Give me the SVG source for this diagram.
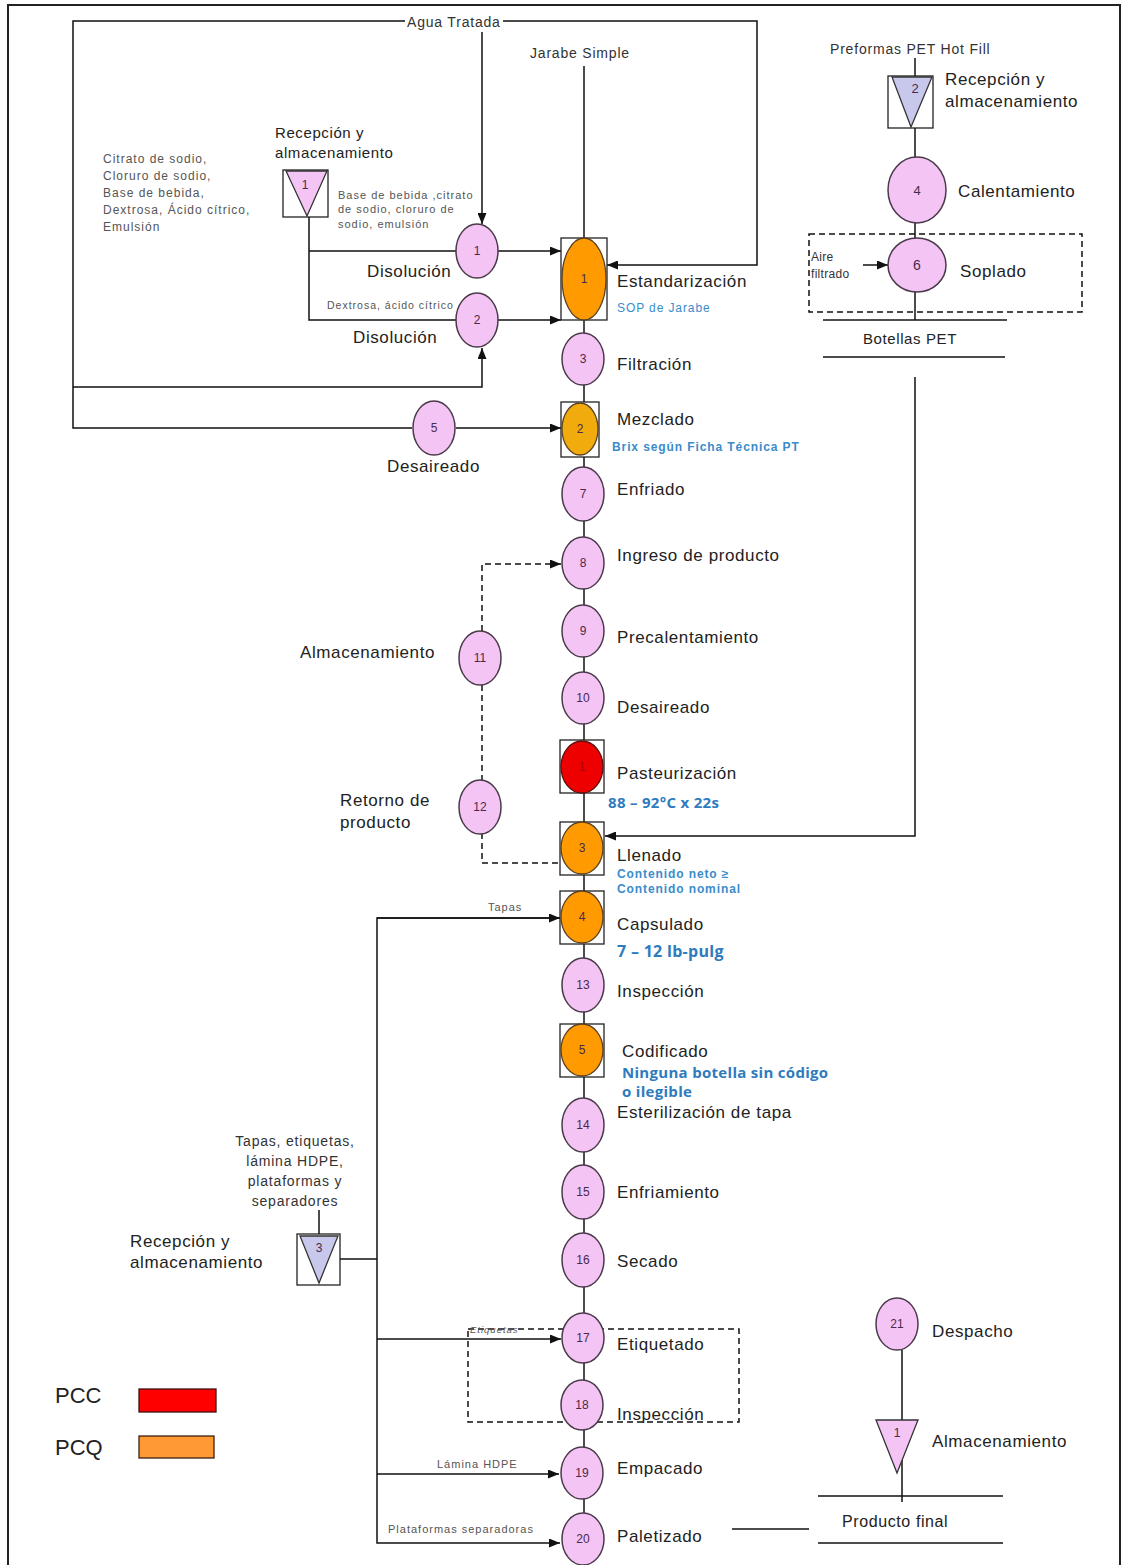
<svg xmlns="http://www.w3.org/2000/svg" width="1125" height="1565" viewBox="0 0 1125 1565">
<defs>
<marker id="ar" markerWidth="11" markerHeight="9" refX="11" refY="4.5" orient="auto" markerUnits="userSpaceOnUse"><path d="M0,0 L11,4.5 L0,9 z" fill="#111"/></marker>
</defs>
<style>
.n{fill:#F4C4F4;stroke:#4A3A4A;stroke-width:1.5}
.o{fill:#FF9A00;stroke:#5A4020;stroke-width:1.3}
.y{fill:#F2AB0C;stroke:#5A4020;stroke-width:1.3}
.r{fill:#EE0000;stroke:#5A1010;stroke-width:1.3}
.bx{fill:#fff;stroke:#222;stroke-width:1.3}
.tp{fill:#F4C4F4;stroke:#333;stroke-width:1.3}
.tl{fill:#C8C8EC;stroke:#333;stroke-width:1.3}
.ln{stroke:#111;stroke-width:1.5;fill:none}
.ds{stroke-dasharray:6 4}
.lb{font-family:"Liberation Sans",Arial,sans-serif;font-size:17px;fill:#222;letter-spacing:0.6px}
.sm{font-family:"Liberation Sans",Arial,sans-serif;font-size:11px;fill:#555;letter-spacing:1px}
.md{font-family:"Liberation Sans",Arial,sans-serif;font-size:14px;fill:#333;letter-spacing:0.8px}
.num{font-family:"Liberation Sans",Arial,sans-serif;font-size:12px;fill:#4A2A4A;text-anchor:middle}
.bl{font-family:"Liberation Sans",Arial,sans-serif;font-size:12px;fill:#3A8CCB;font-weight:bold;letter-spacing:0.9px}
.bb{font-family:"Open Sans","Liberation Sans",sans-serif;font-size:15px;fill:#2E7BBE;font-weight:bold;letter-spacing:0.3px}
.lg{font-family:"Liberation Sans",Arial,sans-serif;font-size:22px;fill:#222}
</style>
<rect x="0" y="0" width="1125" height="1565" fill="#fff"/>
<rect x="8" y="5" width="1112" height="1580" fill="none" stroke="#222" stroke-width="2"/>

<g id="connectors">
<line class="ln" x1="584" y1="66" x2="584" y2="1565"/>
<polyline class="ln" points="405,21 73,21 73,428 412,428"/>
<line class="ln" x1="456" y1="428" x2="561" y2="428" marker-end="url(#ar)"/>
<polyline class="ln" points="73,387 482,387 482,348" marker-end="url(#ar)"/>
<line class="ln" x1="482" y1="32" x2="482" y2="224" marker-end="url(#ar)"/>
<polyline class="ln" points="503,21 757,21 757,265 607,265" marker-end="url(#ar)"/>
<polyline class="ln" points="309,217 309,320 456,320"/>
<line class="ln" x1="309" y1="251" x2="456" y2="251"/>
<line class="ln" x1="498" y1="251" x2="561" y2="251" marker-end="url(#ar)"/>
<line class="ln" x1="498" y1="320" x2="561" y2="320" marker-end="url(#ar)"/>
<line class="ln" x1="915" y1="58" x2="915" y2="157"/>
<line class="ln" x1="915" y1="222" x2="915" y2="320"/>
<line class="ln" x1="863" y1="265" x2="888" y2="265" marker-end="url(#ar)"/>
<line class="ln" x1="823" y1="320" x2="1007" y2="320"/>
<line class="ln" x1="823" y1="357" x2="1005" y2="357"/>
<polyline class="ln" points="915,377 915,836 605,836" marker-end="url(#ar)"/>
<polyline class="ln ds" points="482,631 482,564 561,564" marker-end="url(#ar)"/>
<line class="ln ds" x1="482" y1="685" x2="482" y2="780"/>
<polyline class="ln ds" points="482,833 482,863 560,863"/>
<line class="ln" x1="319" y1="1210" x2="319" y2="1234"/>
<line class="ln" x1="340" y1="1259" x2="377" y2="1259"/>
<polyline class="ln" points="560,918 377,918 377,1543 560,1543" marker-end="url(#ar)"/>
<line class="ln" x1="377" y1="918" x2="560" y2="918" marker-end="url(#ar)"/>
<line class="ln" x1="377" y1="1339" x2="561" y2="1339" marker-end="url(#ar)"/>
<line class="ln" x1="377" y1="1474" x2="559" y2="1474" marker-end="url(#ar)"/>
<line class="ln" x1="902" y1="1350" x2="902" y2="1502"/>
<line class="ln" x1="818" y1="1496" x2="1003" y2="1496"/>
<line class="ln" x1="818" y1="1543" x2="1003" y2="1543"/>
<line class="ln" x1="732" y1="1529" x2="809" y2="1529"/>
<rect class="ln ds" x="809" y="234" width="273" height="78" stroke-width="1.2"/>
<rect class="ln ds" x="468" y="1329" width="271" height="93" stroke-width="1.2"/>
</g>

<text class="md" x="407" y="27">Agua Tratada</text>
<text class="md" x="530" y="58">Jarabe Simple</text>

<g id="t1">
<text class="lb" x="275" y="138" style="font-size:15px">Recepción  y</text>
<text class="lb" x="275" y="158" style="font-size:15px">almacenamiento</text>
<rect class="bx" x="283" y="170" width="45" height="47"/>
<polygon class="tp" points="286,171 327,171 307,216"/>
<text class="num" x="305" y="189">1</text>
<text class="sm" x="103" y="163" style="font-size:12px">Citrato de sodio,</text>
<text class="sm" x="103" y="180" style="font-size:12px">Cloruro de sodio,</text>
<text class="sm" x="103" y="197" style="font-size:12px">Base de bebida,</text>
<text class="sm" x="103" y="214" style="font-size:12px">Dextrosa, Ácido cítrico,</text>
<text class="sm" x="103" y="231" style="font-size:12px">Emulsión</text>
<text class="sm" x="338" y="199">Base de bebida ,citrato</text>
<text class="sm" x="338" y="213">de sodio, cloruro de</text>
<text class="sm" x="338" y="228">sodio, emulsión</text>
</g>

<g id="d1">
<ellipse class="n" cx="477" cy="251" rx="21" ry="27"/>
<text class="num" x="477" y="255">1</text>
<text class="lb" x="367" y="277">Disolución</text>
</g>
<g id="d2">
<ellipse class="n" cx="477" cy="320" rx="21" ry="27"/>
<text class="num" x="477" y="324">2</text>
<text class="sm" x="327" y="309" style="font-size:10.5px">Dextrosa, ácido cítrico</text>
<text class="lb" x="353" y="343">Disolución</text>
</g>

<g id="estandarizacion">
<rect class="bx" x="561" y="238" width="46" height="82"/>
<ellipse class="o" cx="584" cy="279" rx="22" ry="41"/>
<text class="num" x="584" y="283">1</text>
<text class="lb" x="617" y="287">Estandarización</text>
<text class="bl" x="617" y="312" style="font-weight:normal;font-size:12px">SOP de Jarabe</text>
</g>
<g id="n3">
<ellipse class="n" cx="583" cy="359" rx="21" ry="26"/>
<text class="num" x="583" y="363">3</text>
<text class="lb" x="617" y="370">Filtración</text>
</g>
<g id="mezclado">
<rect class="bx" x="561" y="402" width="38" height="55"/>
<ellipse class="y" cx="580" cy="429" rx="18" ry="26"/>
<text class="num" x="580" y="433">2</text>
<text class="lb" x="617" y="425">Mezclado</text>
<text class="bl" x="612" y="451">Brix  según Ficha Técnica PT</text>
</g>
<g id="n5">
<ellipse class="n" cx="434" cy="428" rx="21" ry="27"/>
<text class="num" x="434" y="432">5</text>
<text class="lb" x="387" y="472">Desaireado</text>
</g>
<g id="n7">
<ellipse class="n" cx="583" cy="494" rx="21" ry="27"/>
<text class="num" x="583" y="498">7</text>
<text class="lb" x="617" y="495">Enfriado</text>
</g>
<g id="n8">
<ellipse class="n" cx="583" cy="563" rx="21" ry="26"/>
<text class="num" x="583" y="567">8</text>
<text class="lb" x="617" y="561">Ingreso de producto</text>
</g>
<g id="n9">
<ellipse class="n" cx="583" cy="631" rx="21" ry="26"/>
<text class="num" x="583" y="635">9</text>
<text class="lb" x="617" y="643">Precalentamiento</text>
</g>
<g id="n10">
<ellipse class="n" cx="583" cy="698" rx="21" ry="26"/>
<text class="num" x="583" y="702">10</text>
<text class="lb" x="617" y="713">Desaireado</text>
</g>
<g id="pasteurizacion">
<rect class="bx" x="560" y="740" width="44" height="53"/>
<ellipse class="r" cx="582" cy="767" rx="21" ry="26"/>
<text class="num" x="582" y="771" style="fill:#B00000">1</text>
<text class="lb" x="617" y="779">Pasteurización</text>
<text class="bb" x="608" y="808">88 – 92°C x 22s</text>
</g>
<g id="n11">
<ellipse class="n" cx="480" cy="658" rx="21" ry="27"/>
<text class="num" x="480" y="662">11</text>
<text class="lb" x="300" y="658">Almacenamiento</text>
</g>
<g id="n12">
<ellipse class="n" cx="480" cy="807" rx="21" ry="27"/>
<text class="num" x="480" y="811">12</text>
<text class="lb" x="340" y="806">Retorno de</text>
<text class="lb" x="340" y="828">producto</text>
</g>
<g id="llenado">
<rect class="bx" x="560" y="822" width="44" height="53"/>
<ellipse class="o" cx="582" cy="848" rx="21" ry="26"/>
<text class="num" x="582" y="852">3</text>
<text class="lb" x="617" y="861">Llenado</text>
<text class="bl" x="617" y="878">Contenido neto ≥</text>
<text class="bl" x="617" y="893">Contenido nominal</text>
</g>
<g id="capsulado">
<rect class="bx" x="560" y="891" width="44" height="53"/>
<ellipse class="o" cx="582" cy="917" rx="21" ry="26"/>
<text class="num" x="582" y="921">4</text>
<text class="sm" x="488" y="911">Tapas</text>
<text class="lb" x="617" y="930">Capsulado</text>
<text class="bb" x="617" y="957" style="font-size:16px">7 – 12 lb-pulg</text>
</g>
<g id="n13">
<ellipse class="n" cx="583" cy="985" rx="21" ry="27"/>
<text class="num" x="583" y="989">13</text>
<text class="lb" x="617" y="997">Inspección</text>
</g>
<g id="codificado">
<rect class="bx" x="560" y="1024" width="44" height="53"/>
<ellipse class="o" cx="582" cy="1050" rx="21" ry="26"/>
<text class="num" x="582" y="1054">5</text>
<text class="lb" x="622" y="1057">Codificado</text>
<text class="bb" x="622" y="1078">Ninguna botella sin código</text>
<text class="bb" x="622" y="1097">o ilegible</text>
</g>
<g id="n14">
<ellipse class="n" cx="583" cy="1125" rx="21" ry="27"/>
<text class="num" x="583" y="1129">14</text>
<text class="lb" x="617" y="1118">Esterilización de tapa</text>
</g>
<g id="n15">
<ellipse class="n" cx="583" cy="1192" rx="21" ry="27"/>
<text class="num" x="583" y="1196">15</text>
<text class="lb" x="617" y="1198">Enfriamiento</text>
</g>
<g id="n16">
<ellipse class="n" cx="583" cy="1260" rx="21" ry="27"/>
<text class="num" x="583" y="1264">16</text>
<text class="lb" x="617" y="1267">Secado</text>
</g>
<g id="n17">
<ellipse class="n" cx="583" cy="1338" rx="21" ry="25"/>
<text class="num" x="583" y="1342">17</text>
<text class="sm" x="470" y="1333" style="font-size:9.5px;font-style:italic">Etiquetas</text>
<text class="lb" x="617" y="1350">Etiquetado</text>
</g>
<g id="n18">
<ellipse class="n" cx="582" cy="1405" rx="21" ry="25"/>
<text class="num" x="582" y="1409">18</text>
<text class="lb" x="617" y="1420">Inspección</text>
</g>
<g id="n19">
<ellipse class="n" cx="582" cy="1473" rx="21" ry="26"/>
<text class="num" x="582" y="1477">19</text>
<text class="sm" x="437" y="1468">Lámina HDPE</text>
<text class="lb" x="617" y="1474">Empacado</text>
</g>
<g id="n20">
<ellipse class="n" cx="583" cy="1539" rx="21" ry="26"/>
<text class="num" x="583" y="1543">20</text>
<text class="sm" x="388" y="1533">Plataformas separadoras</text>
<text class="lb" x="617" y="1542">Paletizado</text>
</g>

<g id="t3">
<text class="md" x="295" y="1146" text-anchor="middle">Tapas, etiquetas,</text>
<text class="md" x="295" y="1166" text-anchor="middle">lámina  HDPE,</text>
<text class="md" x="295" y="1186" text-anchor="middle">plataformas y</text>
<text class="md" x="295" y="1206" text-anchor="middle">separadores</text>
<rect class="bx" x="297" y="1234" width="43" height="51"/>
<polygon class="tl" points="300,1236 338,1236 319,1283"/>
<text class="num" x="319" y="1252">3</text>
<text class="lb" x="130" y="1247">Recepción  y</text>
<text class="lb" x="130" y="1268">almacenamiento</text>
</g>

<g id="t2">
<text class="md" x="830" y="54">Preformas PET Hot Fill</text>
<rect class="bx" x="888" y="76" width="45" height="52"/>
<polygon class="tl" points="892,77 932,77 911,127"/>
<text class="num" x="915" y="93" style="font-size:13px">2</text>
<text class="lb" x="945" y="85">Recepción  y</text>
<text class="lb" x="945" y="107">almacenamiento</text>
</g>
<g id="n4pet">
<ellipse class="n" cx="917" cy="190" rx="29" ry="33"/>
<text class="num" x="917" y="195" style="font-size:13px">4</text>
<text class="lb" x="958" y="197">Calentamiento</text>
</g>
<g id="n6pet">
<ellipse class="n" cx="917" cy="265" rx="29" ry="27"/>
<text class="num" x="917" y="270" style="font-size:14px">6</text>
<text class="lb" x="960" y="277">Soplado</text>
<text class="md" x="811" y="261" style="font-size:12px;letter-spacing:0.3px">Aire</text>
<text class="md" x="811" y="278" style="font-size:12px;letter-spacing:0.3px">filtrado</text>
</g>
<g id="botellas">
<text class="lb" x="863" y="344" style="font-size:15px">Botellas PET</text>
</g>

<g id="n21">
<ellipse class="n" cx="897" cy="1324" rx="21" ry="26"/>
<text class="num" x="897" y="1328">21</text>
<text class="lb" x="932" y="1337">Despacho</text>
</g>
<g id="alm1">
<polygon class="tp" points="876,1420 918,1420 897,1473"/>
<text class="num" x="897" y="1437">1</text>
<text class="lb" x="932" y="1447">Almacenamiento</text>
</g>
<g id="producto">
<text class="lb" x="842" y="1527" style="font-size:16px">Producto final</text>
</g>

<g id="legend">
<text class="lg" x="55" y="1403">PCC</text>
<rect x="139" y="1389" width="77" height="23" fill="#FF0000" stroke="#401010" stroke-width="1.3"/>
<text class="lg" x="55" y="1455">PCQ</text>
<rect x="139" y="1436" width="75" height="22" fill="#FF9933" stroke="#402010" stroke-width="1.3"/>
</g>
</svg>
